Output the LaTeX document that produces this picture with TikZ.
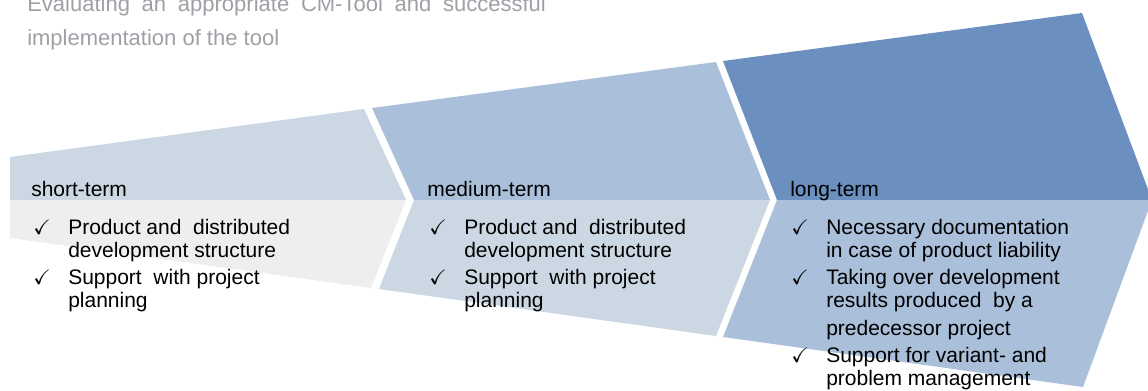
\documentclass[tikz,border=0pt]{standalone}
\usepackage{amssymb}
\usepackage{fontspec}
\setmainfont{Liberation Sans}
\usepackage{xcolor}
\usepackage{tikz}

\definecolor{paleblue}{HTML}{CBD8E3}
\definecolor{midblue}{HTML}{A9BFDA}
\definecolor{deepblue}{HTML}{6B90BF}
\definecolor{palegray}{HTML}{EEEEEE}
\definecolor{titlegray}{HTML}{9DA1A6}

\newcommand{\chk}{$\checkmark$}

\begin{document}
\begin{tikzpicture}[x=0.75pt,y=-0.75pt,
        headtext/.style={anchor=base west, inner sep=0pt, font=\fontsize{15.75}{17.6}\selectfont},
        itemlist/.style={anchor=base west, inner sep=0pt, font=\fontsize{15.75}{17.6}\selectfont},
        titletext/.style={anchor=base west, inner sep=0pt, text=titlegray, font=\fontsize{16.5}{20}\selectfont}]
            \clip (0,0) rectangle (1148,390);
            \fill[white] (0,0) rectangle (1148,390);

            % short-term
            \fill[paleblue] (10,157) -- (364,109) -- (406,200) -- (10,200) -- cycle;
            \fill[palegray] (10,200) -- (406,200) -- (371,288) -- (10,238) -- cycle;
            % medium-term
            \fill[midblue] (372,108) -- (716,62) -- (770,200) -- (414,200) -- cycle;
            \fill[paleblue] (414,200) -- (770,200) -- (716,336) -- (379,289) -- cycle;
            % long-term
            \fill[deepblue] (723,61) -- (1082,13) -- (1152,200) -- (777,200) -- cycle;
            \fill[midblue] (777,200) -- (1152,200) -- (1083,387) -- (723,337) -- cycle;

            \node[titletext] (title1) at (27,11) {\makebox[389pt][s]{Evaluating an appropriate CM-Tool and successful}};
            \node[titletext] (title2) at (27,45) {implementation of the tool};

            \foreach \name/\x/\txt in {short/31/short-term, medium/427/medium-term, long/790/long-term}{
                \node[headtext] (\name) at (\x,196) {\txt};
            }

            \node[itemlist] (shortlist) at (33,234) {\begin{tabular}[t]{@{}p{26.25pt}@{}l@{}}
                \chk & Product and\ \ distributed\\
                     & development structure\\[2.6pt]
                \chk & Support\ \ with project\\
                     & planning
            \end{tabular}};
            \node[itemlist] (mediumlist) at (429,234) {\begin{tabular}[t]{@{}p{26.25pt}@{}l@{}}
                \chk & Product and\ \ distributed\\
                     & development structure\\[2.6pt]
                \chk & Support\ \ with project\\
                     & planning
            \end{tabular}};
            \node[itemlist] (longlist) at (791,234) {\begin{tabular}[t]{@{}p{26.25pt}@{}l@{}}
                \chk & Necessary documentation\\
                     & in case of product liability\\[2.6pt]
                \chk & Taking over development\\
                     & results produced\ \ by a\\[3pt]
                     & predecessor project\\[2.6pt]
                \chk & Support for variant- and\\
                     & problem management
            \end{tabular}};
        \end{tikzpicture}
\end{document}
